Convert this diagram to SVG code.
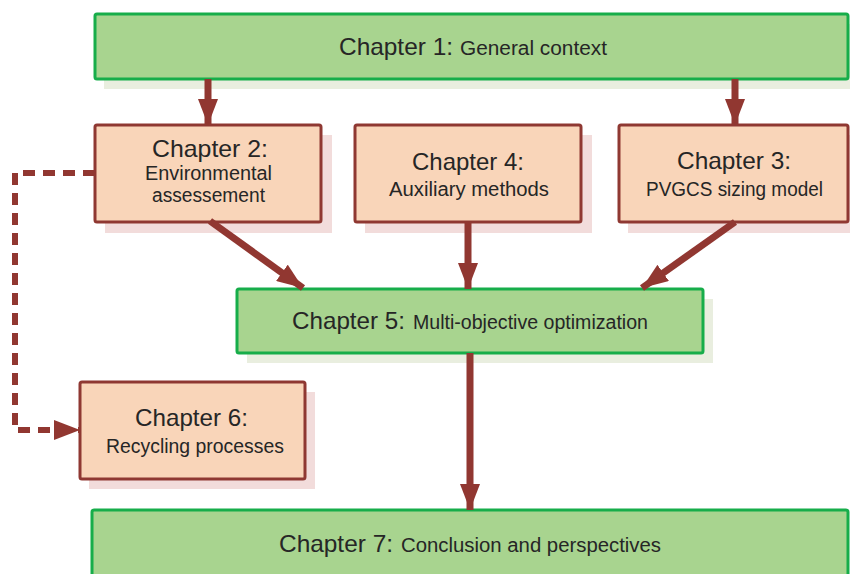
<svg xmlns="http://www.w3.org/2000/svg" width="850" height="574" viewBox="0 0 850 574">
<defs>
<style>
.gbox{fill:#a8d48f;stroke:#17ad4a;stroke-width:3}
.gsh{fill:#e9eedf}
.pbox{fill:#f9d5b9;stroke:#8f3832;stroke-width:3}
.psh{fill:#f2dcdb}
.t{font-family:"Liberation Sans",Arial,sans-serif;fill:#262626}
.h{font-size:24px}
.s{font-size:19.5px}
.c{stroke:#913731;stroke-width:7;fill:none}
.d{stroke:#913731;stroke-width:6;fill:none;stroke-dasharray:12 8}
</style>
<marker id="ah" markerUnits="userSpaceOnUse" markerWidth="28" markerHeight="20" refX="26" refY="10" orient="auto">
<path d="M0,0 L26,10 L0,20 Z" fill="#913731"/>
</marker>
</defs>
<rect width="850" height="574" fill="#ffffff"/>
<g id="ch1">
<rect class="gsh" x="104" y="24" width="746" height="65"/>
<rect class="gbox" x="95" y="14" width="753" height="65" rx="2"/>
<text class="t h" x="339" y="55" textLength="114" lengthAdjust="spacingAndGlyphs">Chapter 1:</text>
<text class="t s" x="460" y="55" textLength="147" lengthAdjust="spacingAndGlyphs">General context</text>
</g>
<g id="ch2">
<rect class="psh" x="105" y="135" width="227" height="98"/>
<rect class="pbox" x="95" y="125" width="226" height="97" rx="2"/>
<text class="t h" x="152" y="157" textLength="116" lengthAdjust="spacingAndGlyphs">Chapter 2:</text>
<text class="t s" x="145" y="180" textLength="127" lengthAdjust="spacingAndGlyphs">Environmental</text>
<text class="t s" x="152" y="202" textLength="113" lengthAdjust="spacingAndGlyphs">assessement</text>
</g>
<g id="ch4">
<rect class="psh" x="365" y="135" width="227" height="98"/>
<rect class="pbox" x="355" y="125" width="226" height="97" rx="2"/>
<text class="t h" x="412" y="170" textLength="112" lengthAdjust="spacingAndGlyphs">Chapter 4:</text>
<text class="t s" x="389" y="196" textLength="160" lengthAdjust="spacingAndGlyphs">Auxiliary methods</text>
</g>
<g id="ch3">
<rect class="psh" x="628" y="135" width="222" height="98"/>
<rect class="pbox" x="619" y="125" width="229" height="97" rx="2"/>
<text class="t h" x="677" y="169" textLength="114" lengthAdjust="spacingAndGlyphs">Chapter 3:</text>
<text class="t s" x="646" y="196" textLength="177" lengthAdjust="spacingAndGlyphs">PVGCS sizing model</text>
</g>
<g id="ch5">
<rect class="gsh" x="247" y="299" width="466" height="64"/>
<rect class="gbox" x="237" y="289" width="466" height="64" rx="2"/>
<text class="t h" x="292" y="329" textLength="113" lengthAdjust="spacingAndGlyphs">Chapter 5:</text>
<text class="t s" x="413" y="329" textLength="235" lengthAdjust="spacingAndGlyphs">Multi-objective optimization</text>
</g>
<g id="ch6">
<rect class="psh" x="89" y="392" width="226" height="97"/>
<rect class="pbox" x="80" y="382" width="225" height="97" rx="2"/>
<text class="t h" x="135" y="426" textLength="113" lengthAdjust="spacingAndGlyphs">Chapter 6:</text>
<text class="t s" x="106" y="453" textLength="178" lengthAdjust="spacingAndGlyphs">Recycling processes</text>
</g>
<g id="ch7">
<rect class="gbox" x="92" y="510" width="756" height="70" rx="2"/>
<text class="t h" x="279" y="552" textLength="114" lengthAdjust="spacingAndGlyphs">Chapter 7:</text>
<text class="t s" x="401" y="552" textLength="260" lengthAdjust="spacingAndGlyphs">Conclusion and perspectives</text>
</g>
<g id="connectors">
<line class="c" x1="208" y1="79" x2="208" y2="125" marker-end="url(#ah)"/>
<line class="c" x1="735" y1="79" x2="735" y2="125" marker-end="url(#ah)"/>
<line class="c" x1="210" y1="221" x2="303" y2="288" marker-end="url(#ah)"/>
<line class="c" x1="468" y1="222" x2="468" y2="289" marker-end="url(#ah)"/>
<line class="c" x1="735" y1="222" x2="642" y2="288" marker-end="url(#ah)"/>
<line class="c" x1="470" y1="353" x2="470" y2="510" marker-end="url(#ah)"/>
<path class="d" d="M95,173 H15 V430 H80" marker-end="url(#ah)"/>
</g>
</svg>
